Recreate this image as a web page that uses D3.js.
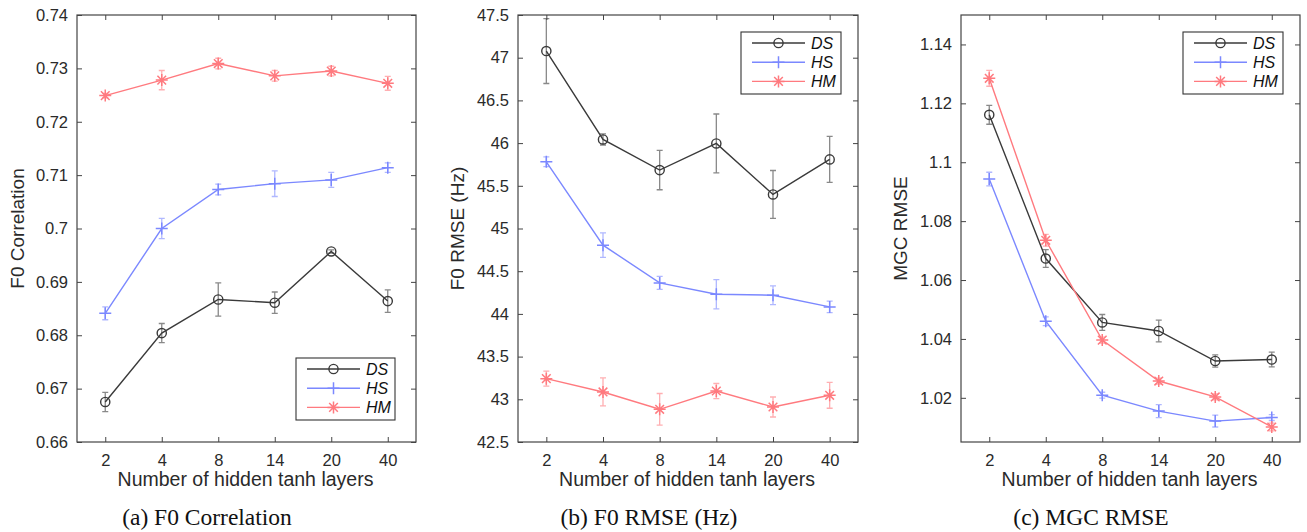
<!DOCTYPE html>
<html>
<head>
<meta charset="utf-8">
<script src="https://cdn.jsdelivr.net/npm/d3@7/dist/d3.min.js"></script>
<style>
  body { margin: 0; background: #fff; }
  svg { display: block; font-family: "Liberation Sans", Arial, Helvetica, sans-serif; }
</style>
</head>
<body>
<svg id="chart" width="1307" height="532"></svg>
<script>
// x categories shared by all three panels
const layers = ["2", "4", "8", "14", "20", "40"];
const seriesNames = ["DS", "HS", "HM"];

// (a) F0 correlation: means and error half-widths
const corrDS = [0.6675, 0.6804, 0.6867, 0.6861, 0.6957, 0.6864];
const corrDSErr = [0.0018, 0.0018, 0.0031, 0.002, 0.0003, 0.0021];
const corrHS = [0.6841, 0.7, 0.7073, 0.7084, 0.7091, 0.7114];
const corrHSErr = [0.0012, 0.0019, 0.001, 0.0024, 0.0014, 0.0009];
const corrHM = [0.7249, 0.7278, 0.7309, 0.7286, 0.7295, 0.7272];
const corrHMErr = [0.0004, 0.0018, 0.001, 0.001, 0.0009, 0.0013];
const corrTicks = [0.66, 0.67, 0.68, 0.69, 0.7, 0.71, 0.72, 0.73, 0.74];

// (b) F0 RMSE (Hz)
const f0DS = [47.078, 46.043, 45.684, 45.996, 45.399, 45.809];
const f0DSErr = [0.38, 0.065, 0.23, 0.345, 0.28, 0.27];
const f0HS = [45.781, 44.805, 44.363, 44.23, 44.219, 44.082];
const f0HSErr = [0.057, 0.143, 0.076, 0.172, 0.11, 0.068];
const f0HM = [43.242, 43.086, 42.883, 43.097, 42.91, 43.047];
const f0HMErr = [0.088, 0.164, 0.185, 0.088, 0.117, 0.152];
const f0Ticks = [42.5, 43, 43.5, 44, 44.5, 45, 45.5, 46, 46.5, 47, 47.5];

// (c) MGC RMSE
const mgcDS = [1.1161, 1.0673, 1.0456, 1.0427, 1.0325, 1.033];
const mgcDSErr = [0.0032, 0.003, 0.0027, 0.0037, 0.0021, 0.0025];
const mgcHS = [1.0943, 1.046, 1.0209, 1.0155, 1.0121, 1.0133];
const mgcHSErr = [0.0023, 0.0015, 0.001, 0.0022, 0.002, 0.001];
const mgcHM = [1.1285, 1.0735, 1.0396, 1.0257, 1.0203, 1.0101];
const mgcHMErr = [0.0027, 0.002, 0.001, 0.001, 0.001, 0.0013];
const mgcTicks = [1.02, 1.04, 1.06, 1.08, 1.1, 1.12, 1.14];

const COLORS = { DS: "#3a3a3a", HS: "#7b88ff", HM: "#ff7a7f" };

const panels = [
  {
    x0: 77, x1: 416, domain: [0.66, 0.74], ticks: corrTicks,
    ylabel: "F0 Correlation", ylabelX: 17, caption: "(a) F0 Correlation", capX: 207,
    series: [[corrDS, corrDSErr], [corrHS, corrHSErr], [corrHM, corrHMErr]],
    legend: { x: 296, y: 358, w: 99, h: 62 },
  },
  {
    x0: 518, x1: 858, domain: [42.5, 47.5], ticks: f0Ticks,
    ylabel: "F0 RMSE (Hz)", ylabelX: 457, caption: "(b) F0 RMSE (Hz)", capX: 649,
    series: [[f0DS, f0DSErr], [f0HS, f0HSErr], [f0HM, f0HMErr]],
    legend: { x: 741, y: 32, w: 100, h: 62 },
  },
  {
    x0: 961, x1: 1300, domain: [1.005, 1.15], ticks: mgcTicks,
    ylabel: "MGC RMSE", ylabelX: 900, caption: "(c) MGC RMSE", capX: 1091,
    series: [[mgcDS, mgcDSErr], [mgcHS, mgcHSErr], [mgcHM, mgcHMErr]],
    legend: { x: 1183, y: 32, w: 100, h: 62 },
  },
];

const svg = d3.select("#chart");
const Y0 = 15, Y1 = 442;

function drawMarker(g, name, cx, cy, color) {
  if (name === "DS") {
    g.append("circle").attr("cx", cx).attr("cy", cy).attr("r", 4.6)
      .attr("fill", "none").attr("stroke", color).attr("stroke-width", 1.4);
  } else if (name === "HS") {
    const s = 6;
    g.append("path").attr("d", `M${cx - s},${cy}H${cx + s}M${cx},${cy - s}V${cy + s}`)
      .attr("stroke", color).attr("stroke-width", 1.5);
  } else {
    const s = 6, d = s * 0.72;
    g.append("path")
      .attr("d", `M${cx - s},${cy}H${cx + s}M${cx},${cy - s}V${cy + s}` +
        `M${cx - d},${cy - d}L${cx + d},${cy + d}M${cx - d},${cy + d}L${cx + d},${cy - d}`)
      .attr("stroke", color).attr("stroke-width", 1.5);
  }
}

const fmt = (v) => String(+v.toFixed(2));

panels.forEach((p) => {
  const x = d3.scalePoint().domain(layers).range([p.x0, p.x1]).padding(0.5);
  const y = d3.scaleLinear().domain(p.domain).range([Y1, Y0]);
  const g = svg.append("g");

  // axes with inward ticks, mirrored on top/right
  const axL = g.append("g").attr("transform", `translate(${p.x0},0)`)
    .call(d3.axisLeft(y).tickValues(p.ticks).tickSize(-5).tickPadding(9).tickFormat(fmt));
  const axR = g.append("g").attr("transform", `translate(${p.x1},0)`)
    .call(d3.axisRight(y).tickValues(p.ticks).tickSize(-5).tickFormat(""));
  const axB = g.append("g").attr("transform", `translate(0,${Y1})`)
    .call(d3.axisBottom(x).tickSize(-5).tickPadding(12));
  const axT = g.append("g").attr("transform", `translate(0,${Y0})`)
    .call(d3.axisTop(x).tickSize(-5).tickFormat(""));
  [axL, axR, axB, axT].forEach((a) => {
    a.select(".domain").remove();
    a.selectAll("line").attr("stroke", "#444").attr("stroke-width", 1);
    a.selectAll("text").attr("font-size", 16.5).attr("fill", "#2a2a2a")
      .attr("font-family", "Liberation Sans, Arial, sans-serif");
  });

  g.append("rect").attr("x", p.x0).attr("y", Y0)
    .attr("width", p.x1 - p.x0).attr("height", Y1 - Y0)
    .attr("fill", "none").attr("stroke", "#444").attr("stroke-width", 1.2);

  // axis labels
  g.append("text").attr("x", (p.x0 + p.x1) / 2 - 1).attr("y", 486)
    .attr("text-anchor", "middle").attr("font-size", 19.5).attr("fill", "#2a2a2a")
    .text("Number of hidden tanh layers");
  g.append("text")
    .attr("transform", `translate(${p.ylabelX},${(Y0 + Y1) / 2}) rotate(-90)`)
    .attr("text-anchor", "middle").attr("dy", "0.35em")
    .attr("font-size", 19).attr("fill", "#2a2a2a").text(p.ylabel);
  g.append("text").attr("x", p.capX).attr("y", 525)
    .attr("text-anchor", "middle").attr("font-size", 23.5)
    .attr("font-family", "Liberation Serif, Times New Roman, serif").attr("fill", "#111")
    .text(p.caption);

  // series
  p.series.forEach(([vals, errs], si) => {
    const name = seriesNames[si];
    const color = COLORS[name];
    const sg = g.append("g");
    // error bars
    vals.forEach((v, i) => {
      const cx = x(layers[i]);
      const yt = y(v + errs[i]), yb = y(v - errs[i]);
      sg.append("path")
        .attr("d", `M${cx},${yt}V${yb}M${cx - 3},${yt}H${cx + 3}M${cx - 3},${yb}H${cx + 3}`)
        .attr("stroke", color).attr("stroke-opacity", 0.6).attr("stroke-width", 1.3)
        .attr("fill", "none");
    });
    const line = d3.line().x((d, i) => x(layers[i])).y((d) => y(d));
    sg.append("path").datum(vals).attr("d", line)
      .attr("fill", "none").attr("stroke", color).attr("stroke-width", 1.4);
    vals.forEach((v, i) => drawMarker(sg, name, x(layers[i]), y(v), color));
  });

  // legend
  const L = p.legend;
  const lg = g.append("g");
  lg.append("rect").attr("x", L.x).attr("y", L.y).attr("width", L.w).attr("height", L.h)
    .attr("fill", "#fff").attr("stroke", "#333").attr("stroke-width", 1.1);
  seriesNames.forEach((name, i) => {
    const ly = L.y + 11 + i * 19.2;
    const color = COLORS[name];
    lg.append("line").attr("x1", L.x + 11).attr("x2", L.x + 64)
      .attr("y1", ly).attr("y2", ly).attr("stroke", color).attr("stroke-width", 1.4);
    drawMarker(lg, name, L.x + 37.5, ly, color);
    lg.append("text").attr("x", L.x + 70).attr("y", ly).attr("dy", "0.36em")
      .attr("font-size", 16).attr("font-style", "italic").attr("fill", "#111").text(name);
  });
});
</script>
</body>
</html>
